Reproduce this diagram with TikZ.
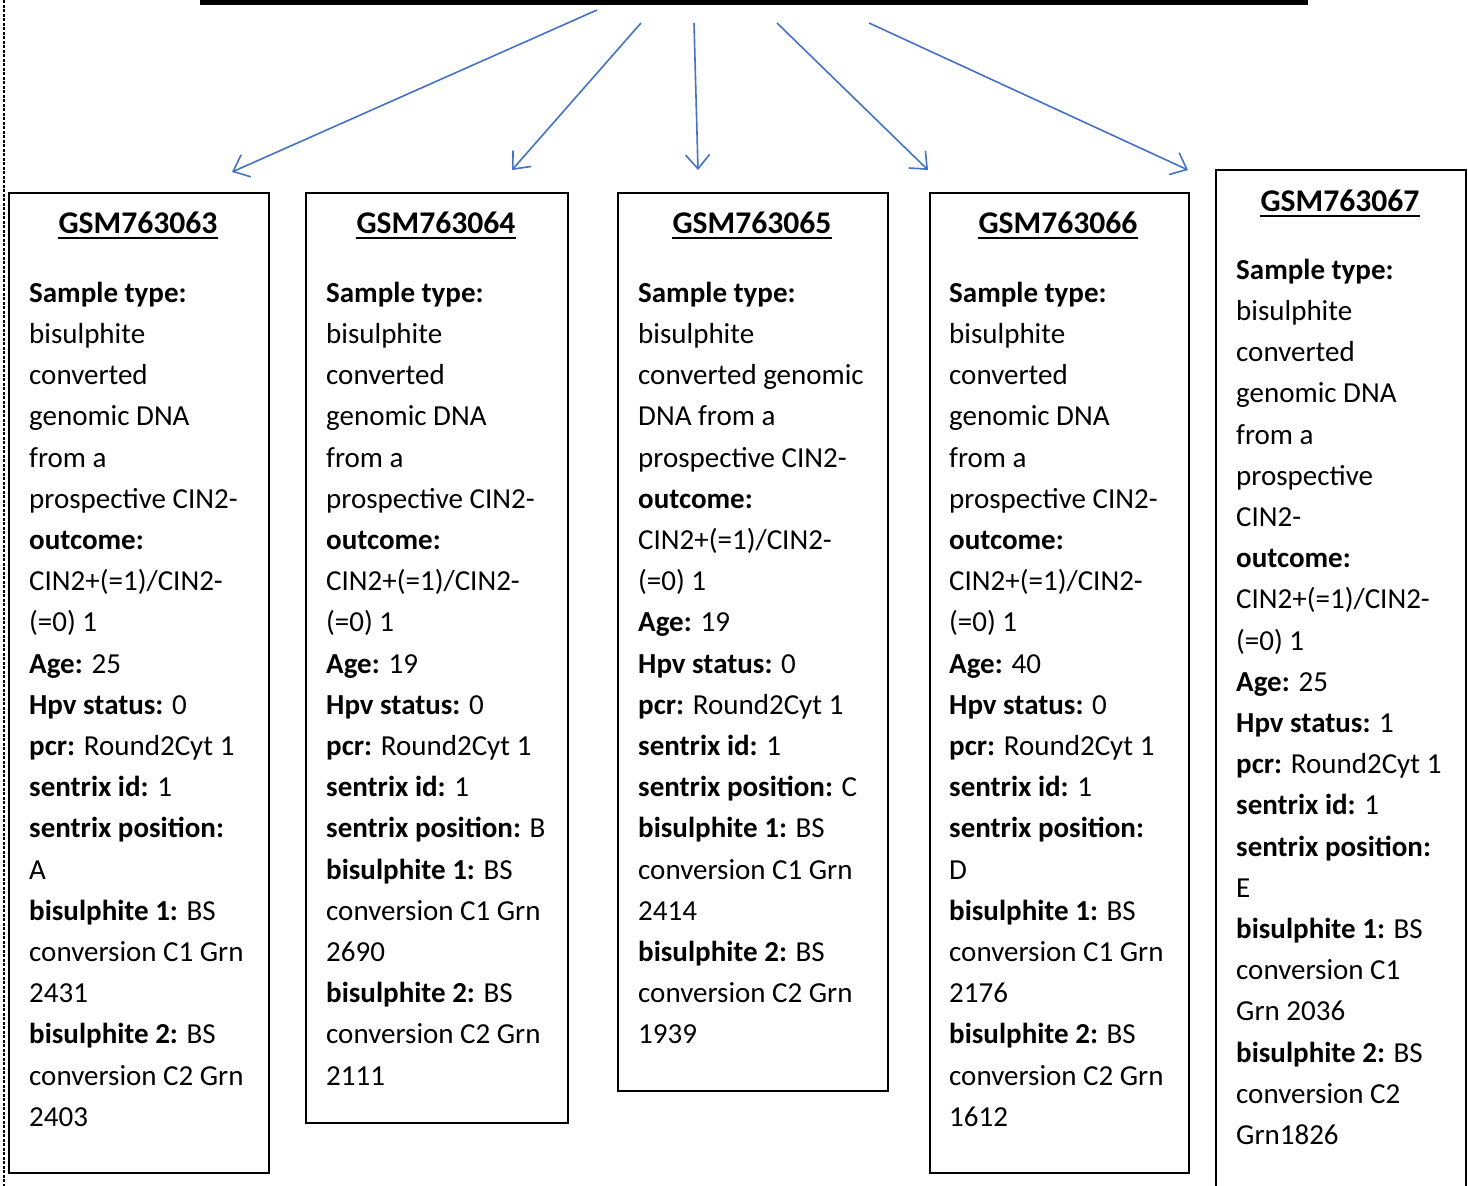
\documentclass[tikz,border=0pt]{standalone}
\usepackage{fontspec}
\setmainfont{Carlito}
\usetikzlibrary{arrows.meta}
\definecolor{arrowblue}{RGB}{68,114,196}
\tikzset{
  boxframe/.style={draw, line width=1.8pt, inner sep=0pt, anchor=north west},
  body/.style={anchor=north west, align=left, inner sep=0pt, font=\fontsize{29}{41.2}\selectfont},
  boxtitle/.style={anchor=base, inner sep=0pt, font=\fontsize{31.6}{38}\selectfont\bfseries},
  uline/.style={line width=2.6pt},
  link/.style={draw=arrowblue, line width=1.6pt, -{Straight Barb[length=14pt,width=24pt]}},
}
\begin{document}
\begin{tikzpicture}[x=1pt, y=-1pt]
\useasboundingbox (0,0) rectangle (1468,1186);
% left dashed margin line and cut-off title underline
\draw[line width=1.5pt, dash pattern=on 3pt off 1.5pt] (4,0) -- (4,1186);
\draw[line width=5pt] (200,2) -- (1308,2);

% boxes
\node[boxframe, minimum width=260pt, minimum height=980pt] (box1) at (8,192) {};
\node[boxframe, minimum width=262pt, minimum height=930pt] (box2) at (305,192) {};
\node[boxframe, minimum width=270pt, minimum height=898pt] (box3) at (617,192) {};
\node[boxframe, minimum width=259pt, minimum height=980pt] (box4) at (929,192) {};
\node[boxframe, minimum width=250pt, minimum height=1040pt] (box5) at (1215,169) {};

% titles
\node[boxtitle] (t1) at (138,233) {GSM763063};
\node[boxtitle] (t2) at (436,233) {GSM763064};
\node[boxtitle] (t3) at (752,233) {GSM763065};
\node[boxtitle] (t4) at (1058,233) {GSM763066};
\node[boxtitle] (t5) at (1340,211) {GSM763067};
\foreach \t in {t1,t2,t3,t4,t5}
  \draw[uline] ([yshift=-5pt]\t.base west) -- ([yshift=-5pt]\t.base east);

% body texts
\node[body] (x1) at (29,273.2) {\strut\textbf{Sample type:}\\
bisulphite\\
converted\\
genomic DNA\\
from a\\
prospective CIN2-\\
\textbf{outcome:}\\
CIN2+(=1)/CIN2-\\
(=0) 1\\
\textbf{Age:} 25\\
\textbf{Hpv status:} 0\\
\textbf{pcr:} Round2Cyt 1\\
\textbf{sentrix id:} 1\\
\textbf{sentrix position:}\\
A\\
\textbf{bisulphite 1:} BS\\
conversion C1 Grn\\
2431\\
\textbf{bisulphite 2:} BS\\
conversion C2 Grn\\
2403};

\node[body] (x2) at (326,273.2) {\strut\textbf{Sample type:}\\
bisulphite\\
converted\\
genomic DNA\\
from a\\
prospective CIN2-\\
\textbf{outcome:}\\
CIN2+(=1)/CIN2-\\
(=0) 1\\
\textbf{Age:} 19\\
\textbf{Hpv status:} 0\\
\textbf{pcr:} Round2Cyt 1\\
\textbf{sentrix id:} 1\\
\textbf{sentrix position:} B\\
\textbf{bisulphite 1:} BS\\
conversion C1 Grn\\
2690\\
\textbf{bisulphite 2:} BS\\
conversion C2 Grn\\
2111};

\node[body] (x3) at (638,273.2) {\strut\textbf{Sample type:}\\
bisulphite\\
converted genomic\\
DNA from a\\
prospective CIN2-\\
\textbf{outcome:}\\
CIN2+(=1)/CIN2-\\
(=0) 1\\
\textbf{Age:} 19\\
\textbf{Hpv status:} 0\\
\textbf{pcr:} Round2Cyt 1\\
\textbf{sentrix id:} 1\\
\textbf{sentrix position:} C\\
\textbf{bisulphite 1:} BS\\
conversion C1 Grn\\
2414\\
\textbf{bisulphite 2:} BS\\
conversion C2 Grn\\
1939};

\node[body] (x4) at (949,273.2) {\strut\textbf{Sample type:}\\
bisulphite\\
converted\\
genomic DNA\\
from a\\
prospective CIN2-\\
\textbf{outcome:}\\
CIN2+(=1)/CIN2-\\
(=0) 1\\
\textbf{Age:} 40\\
\textbf{Hpv status:} 0\\
\textbf{pcr:} Round2Cyt 1\\
\textbf{sentrix id:} 1\\
\textbf{sentrix position:}\\
D\\
\textbf{bisulphite 1:} BS\\
conversion C1 Grn\\
2176\\
\textbf{bisulphite 2:} BS\\
conversion C2 Grn\\
1612};

\node[body] (x5) at (1236,250.2) {\strut\textbf{Sample type:}\\
bisulphite\\
converted\\
genomic DNA\\
from a\\
prospective\\
CIN2-\\
\textbf{outcome:}\\
CIN2+(=1)/CIN2-\\
(=0) 1\\
\textbf{Age:} 25\\
\textbf{Hpv status:} 1\\
\textbf{pcr:} Round2Cyt 1\\
\textbf{sentrix id:} 1\\
\textbf{sentrix position:}\\
E\\
\textbf{bisulphite 1:} BS\\
conversion C1\\
Grn 2036\\
\textbf{bisulphite 2:} BS\\
conversion C2\\
Grn1826};

% arrows
\coordinate (s1) at (597,10);   \coordinate (e1) at (232,172);
\coordinate (s2) at (641,23);   \coordinate (e2) at (512,170);
\coordinate (s3) at (694,23);   \coordinate (e3) at (698,170);
\coordinate (s4) at (777,23);   \coordinate (e4) at (928,170);
\coordinate (s5) at (869,23);   \coordinate (e5) at (1188,170);
\foreach \i in {1,...,5}
  \draw[link] (s\i) -- (e\i);
\end{tikzpicture}
\end{document}
